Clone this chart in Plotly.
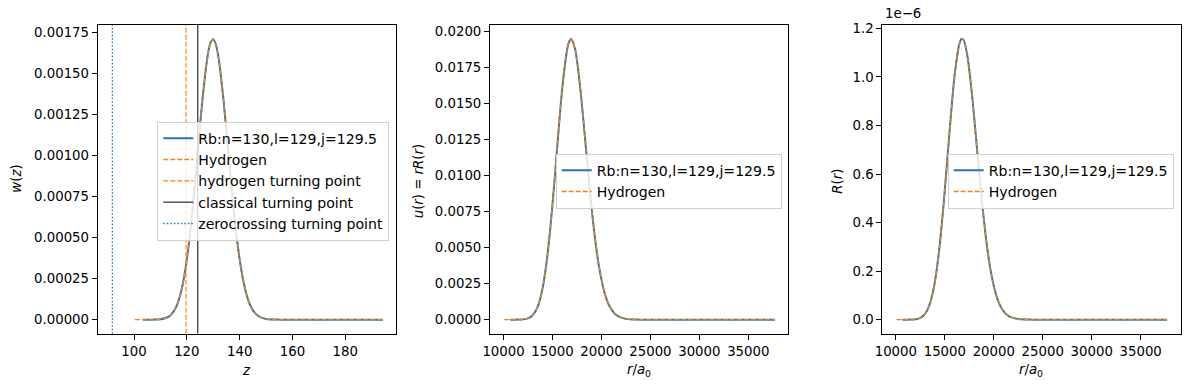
import plotly.graph_objects as go

# ---------------- data ----------------
# Panel 1: w(z)
z_rb = [103.4, 106, 108, 110, 112, 114, 116, 118, 120, 122, 124, 126, 128, 129, 130,
        131, 132, 134, 136, 138, 140, 142, 144, 146, 148, 150, 152, 155, 160, 170, 180, 194.2]
w_rb = [0.0, 1.4e-7, 6.7e-7, 2.77e-6, 9.8e-6, 2.98e-5, 7.90e-5, 1.822e-4, 3.665e-4, 6.456e-4,
        9.98e-4, 1.3548e-3, 1.620e-3, 1.6907e-3, 1.7103e-3, 1.6776e-3, 1.5966e-3, 1.3205e-3,
        9.69e-4, 6.32e-4, 3.673e-4, 1.903e-4, 8.81e-5, 3.65e-5, 1.35e-5, 4.5e-6, 1.3e-6, 2e-7,
        0.0, 0.0, 0.0, 0.0]
z_h = [100.3] + z_rb
w_h = [0.0] + w_rb

hydrogen_turning_point = 119.7
classical_turning_point = 124.15
zerocrossing_turning_point = 91.8

# Panel 2: u(r) = rR(r)
r_rb = [10690, 11000, 11500, 12000, 12500, 13000, 13500, 14000, 14500, 15000, 15500, 16000,
        16500, 16700, 16900, 17300, 17800, 18300, 18800, 19300, 19800, 20300, 20800, 21500,
        22500, 24000, 27000, 32000, 37700]
u_rb = [0.0, 5.7e-7, 3.9e-6, 2.1e-5, 9.2e-5, 3.21e-4, 9.26e-4, 2.235e-3, 4.58e-3, 8.02e-3,
        1.215e-2, 1.611e-2, 1.879e-2, 1.931e-2, 1.95e-2, 1.881e-2, 1.632e-2, 1.277e-2,
        9.08e-3, 5.88e-3, 3.49e-3, 1.91e-3, 9.64e-4, 3.27e-4, 5.5e-5, 2.4e-6, 0.0, 0.0, 0.0]
r_h = [10060] + r_rb
u_h = [0.0] + u_rb

# Panel 3: R(r)
R_rb = [0.0, 0.00005e-6, 0.0003e-6, 0.0018e-6, 0.0074e-6, 0.0247e-6, 0.0686e-6, 0.1596e-6,
        0.3159e-6, 0.5347e-6, 0.7839e-6, 1.0069e-6, 1.1388e-6, 1.1563e-6, 1.1538e-6,
        1.0873e-6, 0.9169e-6, 0.6978e-6, 0.4830e-6, 0.3047e-6, 0.1763e-6, 0.0941e-6,
        0.0463e-6, 0.0152e-6, 0.0024e-6, 0.0001e-6, 0.0, 0.0, 0.0]
R_h = [0.0] + R_rb

R_ticks = [0.0, 0.2e-6, 0.4e-6, 0.6e-6, 0.8e-6, 1.0e-6, 1.2e-6]
R_ticktext = ["0.0", "0.2", "0.4", "0.6", "0.8", "1.0", "1.2"]

rb_label = "Rb:n=130,l=129,j=129.5"
h_label = "Hydrogen"

# ---------------- styling ----------------
BLUE = "#1f77b4"
ORANGE = "#ff7f0e"
FONT = "DejaVu Sans"
FS = 13.3
LFS = 14.1
W, H = 1189, 390

fig = go.Figure()

def add_pair(x_rb, y_rb, x_h, y_h, xa, ya, leg):
    fig.add_trace(go.Scatter(x=x_rb, y=y_rb, mode="lines", name=rb_label,
                             line=dict(color=BLUE, width=2, shape="spline", smoothing=0.8),
                             xaxis=xa, yaxis=ya, legend=leg))
    fig.add_trace(go.Scatter(x=x_h, y=y_h, mode="lines", name=h_label,
                             line=dict(color=ORANGE, width=1.3, dash="5px,2px",
                                       shape="spline", smoothing=0.8),
                             xaxis=xa, yaxis=ya, legend=leg))

add_pair(z_rb, w_rb, z_h, w_h, "x", "y", "legend")
add_pair(r_rb, u_rb, r_h, u_h, "x2", "y2", "legend2")
add_pair(r_rb, R_rb, r_h, R_h, "x3", "y3", "legend3")

vlines = [
    (hydrogen_turning_point, ORANGE, "5px,2px", 1.1, "hydrogen turning point"),
    (classical_turning_point, "black", "solid", 1.0, "classical turning point"),
    (zerocrossing_turning_point, BLUE, "1.5px,2px", 1.3, "zerocrossing turning point"),
]
for xv, col, dash, lw, name in vlines:
    fig.add_shape(type="line", xref="x", yref="y domain", x0=xv, x1=xv, y0=0, y1=1,
                  line=dict(color=col, width=lw, dash=dash),
                  showlegend=True, name=name, legend="legend")

def px_x(p):
    return p / W

def px_y(p):
    return 1 - p / H

ydom = [px_y(333.7), px_y(25)]
axis_common = dict(showline=True, linecolor="black", linewidth=1, mirror=True,
                   ticks="outside", ticklen=5, tickwidth=1, tickcolor="black",
                   showgrid=False, zeroline=False, automargin=False,
                   tickfont=dict(family=FONT, size=FS, color="black"))

legend_common = dict(bgcolor="rgba(255,255,255,0.8)", bordercolor="#d0d0d0", borderwidth=1,
                     font=dict(family=FONT, size=LFS, color="black"),
                     xanchor="left", yanchor="top")

fig.update_layout(
    template="none",
    width=W, height=H,
    margin=dict(l=0, r=0, t=0, b=0, autoexpand=False),
    paper_bgcolor="white", plot_bgcolor="white",
    font=dict(family=FONT, size=FS, color="black"),
    xaxis=dict(domain=[px_x(97.7), px_x(396)], range=[86.25, 199.2],
               tickvals=[100, 120, 140, 160, 180], anchor="y", **axis_common),
    yaxis=dict(domain=ydom, range=[-0.0000856, 0.0017966], dtick=0.00025, tick0=0,
               tickformat=".5f", anchor="x", **axis_common),
    xaxis2=dict(domain=[px_x(490), px_x(788.3)], range=[8615, 39085], dtick=5000, tick0=0,
                tickformat="d", anchor="y2", **axis_common),
    yaxis2=dict(domain=ydom, range=[-0.000975, 0.020475], dtick=0.0025, tick0=0,
                tickformat=".4f", anchor="x2", **axis_common),
    xaxis3=dict(domain=[px_x(882.3), px_x(1180.7)], range=[8615, 39085], dtick=5000, tick0=0,
                tickformat="d", anchor="y3", **axis_common),
    yaxis3=dict(domain=ydom, range=[-0.0578e-6, 1.2141e-6], tickvals=R_ticks,
                ticktext=R_ticktext, anchor="x3", **axis_common),
    legend=dict(x=px_x(157.3), y=px_y(121.5), **legend_common),
    legend2=dict(x=px_x(555.7), y=px_y(153.5), **legend_common),
    legend3=dict(x=px_x(947.7), y=px_y(153.5), **legend_common),
    showlegend=True,
)

ann_font = dict(family=FONT, size=FS, color="black")
annotations = [
    dict(text="<i>w</i>(<i>z</i>)", x=px_x(16.7), y=px_y(179), textangle=-90),
    dict(text="<i>u</i>(<i>r</i>) = <i>rR</i>(<i>r</i>)", x=px_x(418.3), y=px_y(181), textangle=-90),
    dict(text="<i>R</i>(<i>r</i>)", x=px_x(836.7), y=px_y(181), textangle=-90),
    dict(text="<i>z</i>", x=px_x(246.7), y=px_y(370)),
    dict(text="<i>r</i>/<i>a</i><sub>0</sub>", x=px_x(639), y=px_y(370)),
    dict(text="<i>r</i>/<i>a</i><sub>0</sub>", x=px_x(1031), y=px_y(370)),
]
for a in annotations:
    fig.add_annotation(xref="paper", yref="paper", showarrow=False, font=ann_font,
                       xanchor="center", yanchor="middle", **a)
fig.add_annotation(text="1e\u22126", xref="paper", yref="paper", x=px_x(882.5), y=px_y(23),
                   xanchor="left", yanchor="bottom", showarrow=False, font=ann_font)

fig.write_html("out.html")
